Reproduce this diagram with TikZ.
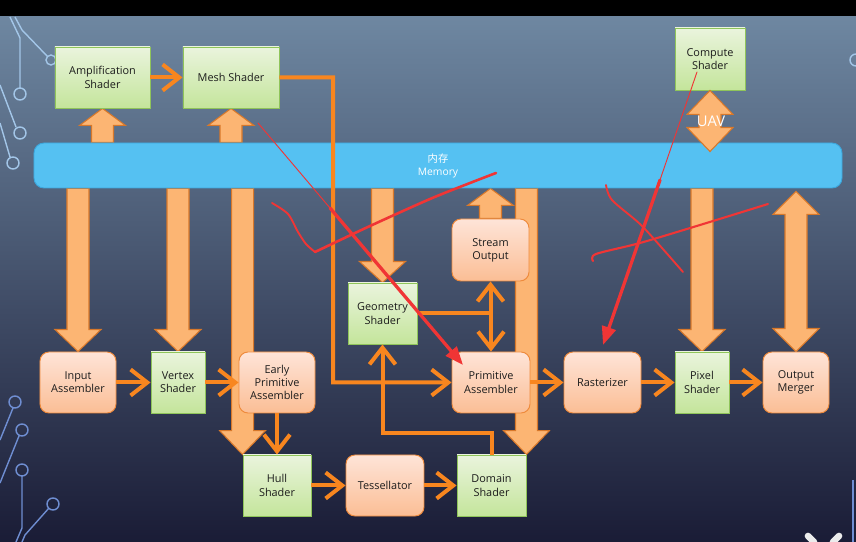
\documentclass[tikz,border=0pt]{standalone}
\usepackage{fontspec}
\setmainfont{Open Sans}
\newfontfamily\cjkfont{Noto Sans CJK SC}
\usepackage{tikz}
\usetikzlibrary{calc}
\usetikzlibrary{arrows.meta}

\definecolor{bgtop}{HTML}{6E87A1}
\definecolor{bgmid}{HTML}{4E6584}
\definecolor{bgbot}{HTML}{1A1C36}
\definecolor{decotop}{HTML}{A3C6E8}
\definecolor{decobot}{HTML}{6F8ED2}
\definecolor{shaderedge}{HTML}{8FC45A}
\definecolor{shadertop}{HTML}{EAF4DD}
\definecolor{shaderbot}{HTML}{C4E59B}
\definecolor{stageedge}{HTML}{EE8A3C}
\definecolor{stagetop}{HTML}{FEE4D8}
\definecolor{stagebot}{HTML}{FBBE95}
\definecolor{memfill}{HTML}{55C1F2}
\definecolor{memedge}{HTML}{3CA6DC}
\definecolor{fatfill}{HTML}{FCB573}
\definecolor{fatedge}{HTML}{D8782A}
\definecolor{flowcol}{HTML}{F8861F}
\definecolor{penred}{HTML}{F03535}
\definecolor{boxtext}{HTML}{1C1C1C}

\newcommand\boxfont{\fontsize{9.3}{11.3}\selectfont}

\tikzset{
  shaderbox/.style={draw=shaderedge, line width=0.8pt, top color=shadertop, bottom color=shaderbot,
    minimum height=1.83cm, align=center, text=boxtext, font=\boxfont},
  stagebox/.style={draw=stageedge, line width=0.8pt, rounded corners=0.27cm, top color=stagetop,
    bottom color=stagebot, minimum height=1.83cm, align=center, text=boxtext, font=\boxfont},
  memorybar/.style={draw=memedge, line width=0.8pt, fill=memfill, rounded corners=0.3cm,
    minimum width=24.24cm, minimum height=1.35cm, align=center, text=white,
    font=\fontsize{8.8}{11}\selectfont},
  fatarrow/.style={draw=fatedge, fill=fatfill, line width=0.9pt, line join=miter},
  flow/.style={draw=flowcol, line width=0.12cm, -{Straight Barb[length=0.5cm, width=0.78cm]}},
  redpen/.style={draw=penred, line cap=round, line join=round},
  deco/.style={line width=1.2pt},
}

% fat arrows: [head length]{tail}{tip}
\newcommand\fatdown[3][0.66cm]{%
  \draw[fatarrow] let \p1=#2, \p2=#3 in
    (\x2-0.33cm,\y1) -- (\x2-0.33cm,\y2+#1) -- (\x2-0.69cm,\y2+#1) -- (\x2,\y2)
    -- (\x2+0.69cm,\y2+#1) -- (\x2+0.33cm,\y2+#1) -- (\x2+0.33cm,\y1) -- cycle;}
\newcommand\fatup[3][0.51cm]{%
  \draw[fatarrow] let \p1=#2, \p2=#3 in
    (\x2-0.33cm,\y1) -- (\x2-0.33cm,\y2-#1) -- (\x2-0.69cm,\y2-#1) -- (\x2,\y2)
    -- (\x2+0.69cm,\y2-#1) -- (\x2+0.33cm,\y2-#1) -- (\x2+0.33cm,\y1) -- cycle;}
\newcommand\fatboth[3][0.69cm]{%
  \draw[fatarrow] let \p1=#2, \p2=#3 in
    (\x1,\y1) -- (\x1+0.69cm,\y1-#1) -- (\x1+0.33cm,\y1-#1) -- (\x1+0.33cm,\y2+#1)
    -- (\x1+0.69cm,\y2+#1) -- (\x1,\y2) -- (\x1-0.69cm,\y2+#1) -- (\x1-0.33cm,\y2+#1)
    -- (\x1-0.33cm,\y1-#1) -- (\x1-0.69cm,\y1-#1) -- cycle;}

\pgfdeclarelayer{back}
\pgfdeclarelayer{mid}
\pgfsetlayers{back,mid,main}

\begin{document}
\begin{tikzpicture}[x=0.03cm, y=-0.03cm]
  \useasboundingbox (0,0) rectangle (856,542);

  \begin{pgfonlayer}{back}
    % slide background
    \fill[black] (0,0) rectangle (856,17);
    \shade[top color=bgtop, middle color=bgmid, bottom color=bgbot] (0,17) rectangle (856,542);
    % circuit lines
    \draw[deco, decotop] (10,17) -- (20,38) -- (20,88) (20,94) circle (0.18cm);
    \draw[deco, decotop] (15,17) -- (22,30) -- (47,56) (51,60) circle (0.15cm);
    \draw[deco, decotop] (0,85) -- (16,127) (20,133) circle (0.18cm);
    \draw[deco, decotop] (0,123) -- (10,157) (13,163) circle (0.18cm);
    \draw[deco, decotop] (856,60) circle (0.18cm);
    \draw[deco, decobot] (13,408) -- (0,440) (15,402) circle (0.18cm);
    \draw[deco, decobot] (19,436) -- (0,483) (22,430) circle (0.18cm);
    \draw[deco, decobot] (22,476) -- (22,528) -- (16,542) (22,470) circle (0.18cm);
    \draw[deco, decobot] (49,508) -- (25,535) -- (22,542) (53,504) circle (0.18cm);
    \draw[deco, decobot] (853,480) -- (853,542);
    \draw[white!85!gray, line width=0.2cm, line cap=round] (808,536) -- (814,542) (839,536) -- (833,542);
  \end{pgfonlayer}

  % top row
  \node[shaderbox, minimum width=2.85cm] (amp) at (102.5,77.5) {Amplification\\Shader};
  \node[shaderbox, minimum width=2.88cm] (mesh) at (231,77.5) {Mesh Shader};
  \node[shaderbox, minimum width=2.1cm, minimum height=1.86cm] (compute) at (710,59) {Compute\\Shader};
  \node[memorybar] (memory) at (438,165.5) {{\cjkfont 内存}\\Memory};

  % pipeline stages
  \node[stagebox, minimum width=2.28cm] (input) at (78,382.5) {Input\\Assembler};
  \node[shaderbox, minimum width=1.62cm] (vertex) at (178,382.5) {Vertex\\Shader};
  \node[stagebox, minimum width=2.28cm] (early) at (277,382.5) {Early\\Primitive\\Assembler};
  \node[shaderbox, minimum width=2.07cm] (geometry) at (382.5,313.5) {Geometry\\Shader};
  \node[shaderbox, minimum width=2.04cm] (hull) at (277,485.5) {Hull\\Shader};
  \node[stagebox, minimum width=2.34cm] (tess) at (385,485.5) {Tessellator};
  \node[shaderbox, minimum width=2.07cm] (domain) at (491.5,485.5) {Domain\\Shader};
  \node[stagebox, minimum width=2.31cm, minimum height=1.86cm] (stream) at (490.5,250) {Stream\\Output};
  \node[stagebox, minimum width=2.34cm] (prim) at (491,382.5) {Primitive\\Assembler};
  \node[stagebox, minimum width=2.31cm] (raster) at (602.5,382.5) {Rasterizer};
  \node[shaderbox, minimum width=1.62cm] (pixel) at (702,382.5) {Pixel\\Shader};
  \node[stagebox, minimum width=1.98cm] (output) at (796,382.5) {Output\\Merger};

  % memory traffic
  \begin{pgfonlayer}{mid}
    \fatup{(memory.north -| amp)}{(amp.south)}
    \fatup{(memory.north -| mesh)}{(mesh.south)}
    \fatup{(stream.north)}{(memory.south -| stream)}
    \fatdown{(memory.south -| input)}{(input.north)}
    \fatdown{(memory.south -| vertex)}{(vertex.north)}
    \fatdown[0.72cm]{(memory.south -| hull.north west)}{(hull.north west)}
    \fatdown[0.63cm]{(memory.south -| geometry)}{(geometry.north)}
    \fatdown[0.72cm]{(memory.south -| domain.north east)}{(domain.north east)}
    \fatdown{(memory.south -| pixel)}{(pixel.north)}
    \fatboth{($(memory.south -| output)+(0,-0.09cm)$)}{(output.north)}
  \end{pgfonlayer}
  \fatboth[0.72cm]{(compute.south)}{($(memory.north -| compute)+(0,-0.27cm)$)}
  \node[text=white, font=\fontsize{12.6}{14}\selectfont] (uav) at (711,121) {UAV};

  % pipeline flow
  \coordinate (meshdrop) at ($(early.east)!0.55!(early.east -| geometry.west)$);
  \draw[flow] (amp) -- (mesh);
  \draw[flow] (mesh) -| (meshdrop) -- (prim);
  \draw[flow] (input) -- (vertex);
  \draw[flow] (vertex) -- (early);
  \draw[flow] (early) -- (hull);
  \draw[flow] (hull) -- (tess);
  \draw[flow] (tess) -- (domain);
  \draw[flow] (domain.north) -- ++(0,-22) -| (geometry.south);
  \draw[flow] (geometry.east) -| (stream.south);
  \draw[flow] (geometry.east) -| (prim.north);
  \draw[flow] (prim) -- (raster);
  \draw[flow] (raster) -- (pixel);
  \draw[flow] (pixel) -- (output);

  % red pen marks
  \draw[redpen, line width=0.8pt] (258,123) -- (330,208);
  \draw[redpen, line width=2.8pt, -{Triangle[length=0.55cm, width=0.42cm]}] (330,208) -- (463,365);
  \draw[redpen, line width=0.8pt] (697,72) -- (660,180);
  \draw[redpen, line width=2.8pt, -{Triangle[length=0.55cm, width=0.42cm]}] (660,180) -- (603,345);
  \draw[redpen, line width=1.6pt] plot[smooth] coordinates {(272,203) (288,214) (298,232) (306,244) (315,252)};
  \draw[redpen, line width=2.2pt] plot[smooth] coordinates {(315,252) (370,226) (430,199) (470,183) (496,173)};
  \draw[redpen, line width=1.6pt] plot[smooth] coordinates {(606,185) (612,200) (640,224) (662,248) (683,272)};
  \draw[redpen, line width=1.8pt] plot[smooth] coordinates {(593,261) (596,254) (640,243) (700,225) (768,204)};
\end{tikzpicture}
\end{document}
